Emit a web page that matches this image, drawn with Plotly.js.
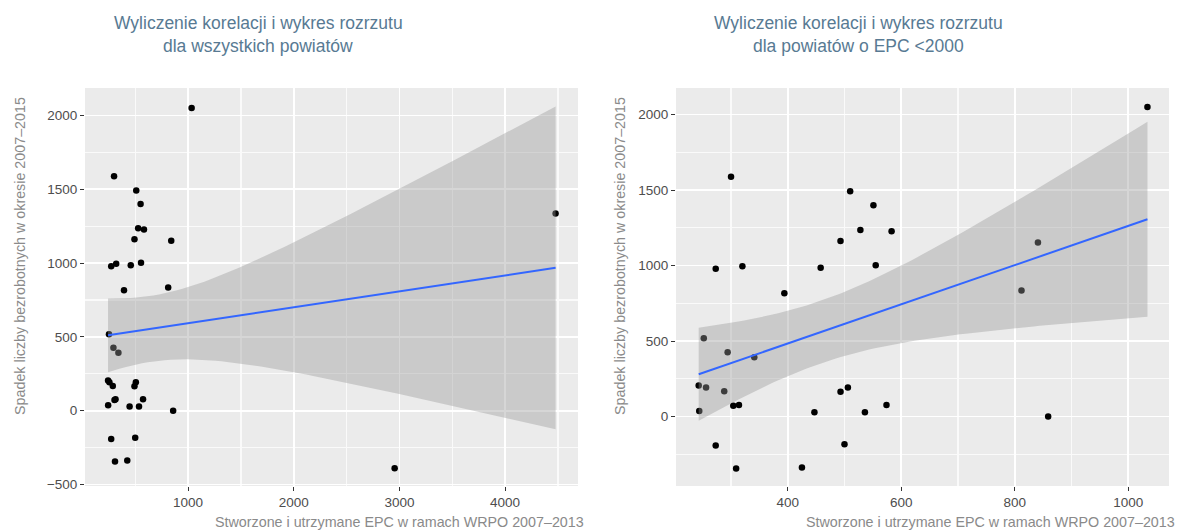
<!DOCTYPE html>
<html>
<head>
<meta charset="utf-8">
<script src="https://cdn.plot.ly/plotly-3.0.1.min.js"></script>
<style>html,body{margin:0;padding:0;background:#fff}#chart{width:1185px;height:530px}</style>
</head>
<body>
<div id="chart"></div>
<script>
// Data (EPC created/maintained vs. drop in unemployed)
const epc = [300,510,551,528,583,493,273,320,458,555,394,252,294,341,243,256,288,493,506,304,314,574,244,447,536,273,500,309,425,1034,841,812,859,2955,4478];
const spadek = [1588,1492,1400,1236,1228,1162,979,995,986,1002,816,518,426,393,205,193,168,165,193,72,77,77,37,29,29,-192,-184,-344,-337,2050,1152,835,0,-390,1336];
const epcLimit = 2000;

const titleLeft = ["Wyliczenie korelacji i wykres rozrzutu", "dla wszystkich powiatów"];
const titleRight = ["Wyliczenie korelacji i wykres rozrzutu", "dla powiatów o EPC <2000"];
const xTitle = "Stworzone i utrzymane EPC w ramach WRPO 2007–2013";
const yTitle = "Spadek liczby bezrobotnych w okresie 2007–2015";

// right panel subset
const epcSub = [], spadekSub = [];
epc.forEach((v,i)=>{ if (v < epcLimit) { epcSub.push(v); spadekSub.push(spadek[i]); } });

// linear model with 95% confidence band (like geom_smooth(method="lm"))
function lmBand(x, y, tq) {
  const n = x.length;
  const mx = x.reduce((a,b)=>a+b,0)/n, my = y.reduce((a,b)=>a+b,0)/n;
  let sxx=0, sxy=0;
  for (let i=0;i<n;i++){ sxx+=(x[i]-mx)**2; sxy+=(x[i]-mx)*(y[i]-my); }
  const b = sxy/sxx, a = my - b*mx;
  let sse=0; for (let i=0;i<n;i++){ sse+=(y[i]-a-b*x[i])**2; }
  const s = Math.sqrt(sse/(n-2));
  const lo = Math.min(...x), hi = Math.max(...x);
  const xs=[], fit=[], up=[], dn=[];
  for (let k=0;k<80;k++){
    const xv = lo + (hi-lo)*k/79;
    const f = a + b*xv;
    const se = s*Math.sqrt(1/n + (xv-mx)**2/sxx);
    xs.push(xv); fit.push(f); up.push(f+tq*se); dn.push(f-tq*se);
  }
  return {xs, fit, up, dn};
}
const bandL = lmBand(epc, spadek, 2.0345);
const bandR = lmBand(epcSub, spadekSub, 2.0395);

function traces(x, y, band, xa, ya) {
  return [
    {type:'scatter', mode:'markers', x:x, y:y, xaxis:xa, yaxis:ya,
     marker:{color:'#000', size:6.5}, hoverinfo:'skip'},
    {type:'scatter', mode:'lines', x:band.xs.concat(band.xs.slice().reverse()),
     y:band.up.concat(band.dn.slice().reverse()), xaxis:xa, yaxis:ya,
     fill:'toself', fillcolor:'rgba(153,153,153,0.4)', line:{width:0}, hoverinfo:'skip'},
    {type:'scatter', mode:'lines', x:band.xs, y:band.fit, xaxis:xa, yaxis:ya,
     line:{color:'#3366FF', width:2}, hoverinfo:'skip'}
  ];
}

const W=1185, H=530;
const fx = p => p/W, fy = p => 1 - p/H;
const tickFont = {family:'Liberation Sans, Arial, sans-serif', size:13.5, color:'#4d4d4d'};
function axis(dom, range, dtick, minorDtick, anchor) {
  return {domain:dom, range:range, dtick:dtick, tick0:0, anchor:anchor,
    zeroline:false, gridcolor:'#ffffff', gridwidth:1.8,
    minor:{dtick:minorDtick, showgrid:true, gridcolor:'#fafafa', gridwidth:1.3},
    ticks:'outside', ticklen:4, tickcolor:'#333333', tickfont:tickFont};
}
const yDom = [fy(486), fy(88)];
const layout = {
  width:W, height:H, showlegend:false,
  margin:{l:0, r:0, t:0, b:0},
  paper_bgcolor:'#ffffff', plot_bgcolor:'#ebebeb',
  xaxis: axis([fx(85), fx(578)], [25, 4690], 1000, 500, 'y'),
  yaxis: axis(yDom, [-510, 2186], 500, 250, 'x'),
  xaxis2: axis([fx(676), fx(1169)], [203, 1072], 200, 100, 'y2'),
  yaxis2: axis(yDom, [-460, 2176], 500, 250, 'x2'),
  annotations: []
};
const titleFont = {family:'Liberation Sans, Arial, sans-serif', size:17.5, color:'#587a93'};
const axTitleFont = {family:'Liberation Sans, Arial, sans-serif', size:14.3, color:'#8a8a8a'};
function ann(text, xp, yp, font, xanchor, angle) {
  return {text:text, xref:'paper', yref:'paper', x:fx(xp), y:fy(yp), xanchor:xanchor||'center',
    yanchor:'middle', showarrow:false, font:font, textangle:angle||0};
}
layout.annotations.push(
  ann(titleLeft[0], 258, 23, titleFont), ann(titleLeft[1], 258, 46, titleFont),
  ann(titleRight[0], 858, 23, titleFont), ann(titleRight[1], 858, 46, titleFont),
  ann(yTitle, 20, 256, axTitleFont, 'center', -90),
  ann(yTitle, 620, 256, axTitleFont, 'center', -90),
  ann(xTitle, 586, 522, axTitleFont, 'right'),
  ann(xTitle, 1177, 522, axTitleFont, 'right')
);

const data = traces(epc, spadek, bandL, 'x', 'y').concat(traces(epcSub, spadekSub, bandR, 'x2', 'y2'));
Plotly.newPlot('chart', data, layout, {displayModeBar:false, staticPlot:true});
</script>
</body>
</html>
